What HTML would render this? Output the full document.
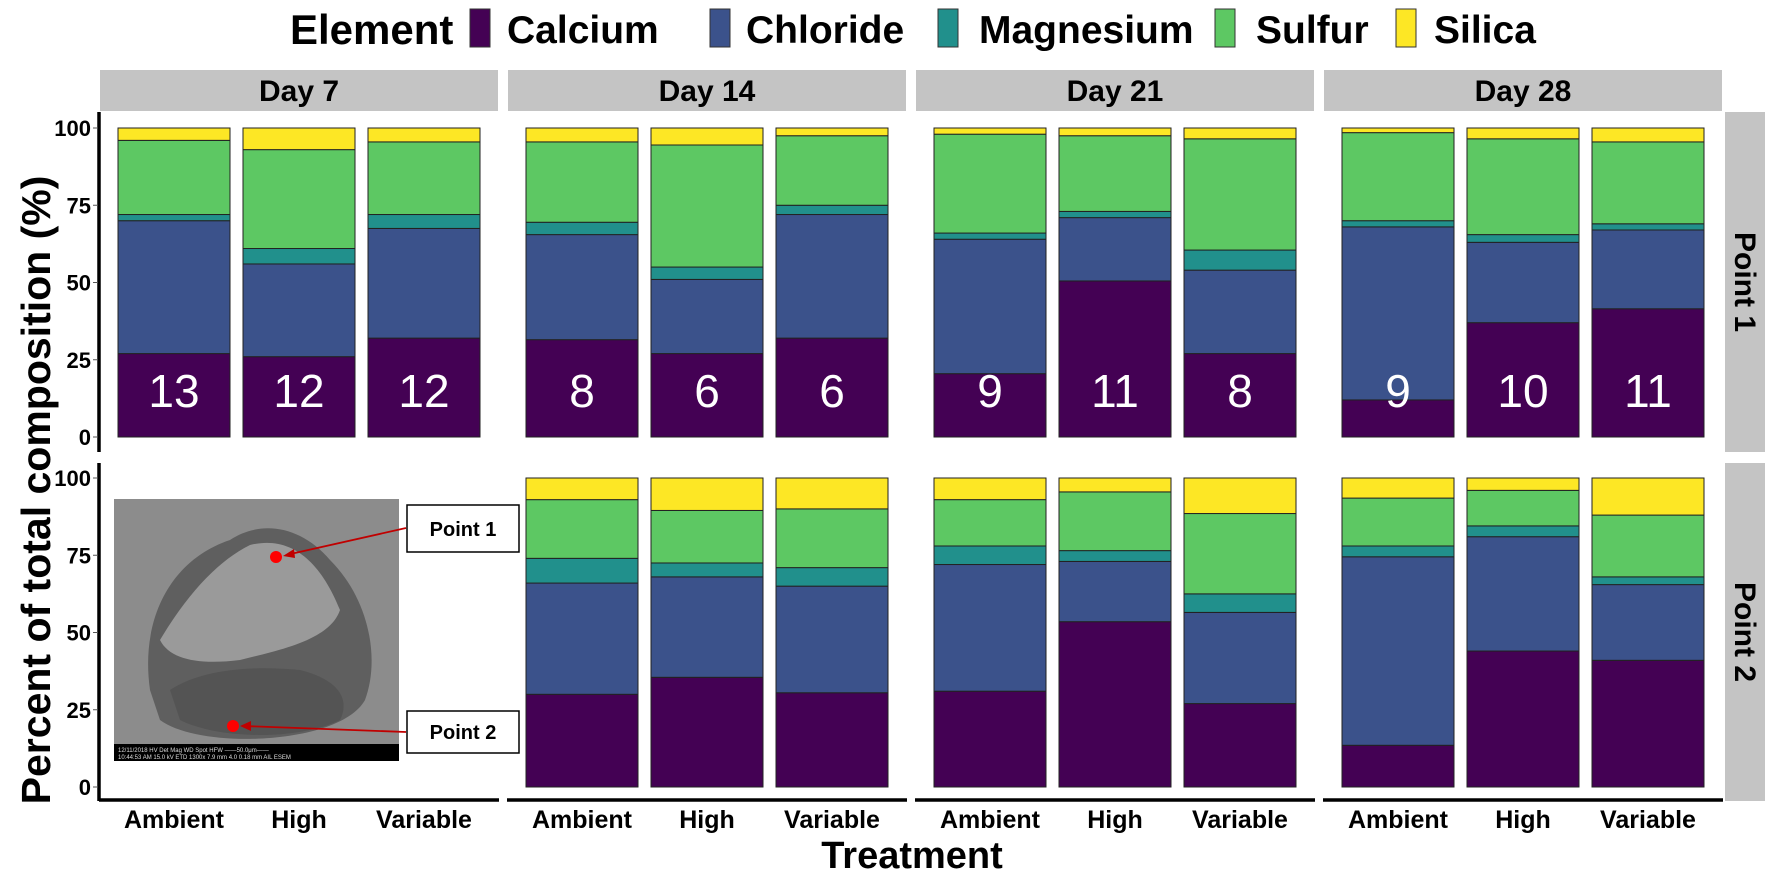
<!DOCTYPE html>
<html><head><meta charset="utf-8"><style>
body{margin:0;background:#fff;}
svg{display:block;font-family:"Liberation Sans",Arial,sans-serif;}
</style></head><body>
<svg id="chart" width="1772" height="876" viewBox="0 0 1772 876" xmlns="http://www.w3.org/2000/svg">
<g id="legend">
<text x="290" y="44" font-size="42" font-weight="bold">Element</text>
</g>
<g id="strips"></g>
<g id="bars"></g>
<g id="axes"></g>
<g id="sem">
<rect x="114" y="499" width="285" height="262" fill="#8c8c8c"/>
<path d="M150 690 C140 620 170 560 230 540 C260 520 300 525 330 560 C370 600 380 660 365 700 C340 745 200 750 160 720 Z" fill="#5f5f5f"/>
<path d="M160 640 C190 590 220 560 250 545 C290 535 320 560 340 610 C330 640 280 650 240 660 C200 665 170 660 160 640 Z" fill="#9a9a9a"/>
<path d="M170 690 C200 670 250 665 300 670 C340 680 350 700 340 720 C300 740 220 740 180 720 Z" fill="#545454"/>
<rect x="114" y="744" width="285" height="17" fill="#000"/>
<text x="118" y="752" font-size="6" fill="#ddd">12/11/2018  HV  Det  Mag  WD  Spot  HFW      ——50.0μm——</text>
<text x="118" y="759" font-size="6" fill="#ddd">10:44:53 AM 15.0 kV ETD 1300x 7.9 mm 4.0 0.18 mm    AIL ESEM</text>
<circle cx="276" cy="557" r="6" fill="#f00"/>
<circle cx="233" cy="726" r="6" fill="#f00"/>
<line x1="406" y1="528" x2="286" y2="555" stroke="#c00000" stroke-width="1.8"/>
<polygon points="283,556 294,549 295,558" fill="#c00000"/>
<line x1="406" y1="732" x2="243" y2="726" stroke="#c00000" stroke-width="1.8"/>
<polygon points="240,726 251,721 251,731" fill="#c00000"/>
<rect x="407" y="505" width="112" height="47" fill="#fff" stroke="#000" stroke-width="1.5"/>
<text x="463" y="536" font-size="20" font-weight="bold" text-anchor="middle">Point 1</text>
<rect x="407" y="711" width="112" height="42" fill="#fff" stroke="#000" stroke-width="1.5"/>
<text x="463" y="739" font-size="20" font-weight="bold" text-anchor="middle">Point 2</text>
</g>
<text transform="translate(50,490) rotate(-90)" text-anchor="middle" font-size="41" font-weight="bold">Percent of total composition (%)</text>
<text x="912" y="868" text-anchor="middle" font-size="38" font-weight="bold">Treatment</text>
</svg>
<script>
const elements = ["Calcium","Chloride","Magnesium","Sulfur","Silica"];
const colors = ["#440154","#3B528B","#21908C","#5DC863","#FDE725"];
const days = ["Day 7","Day 14","Day 21","Day 28"];
const points = ["Point 1","Point 2"];
const treatments = ["Ambient","High","Variable"];
const yTicks = [0,25,50,75,100];
// order: point1 (day7 A,H,V, day14 A,H,V, ...), then point2
const calcium   = [27,26,32, 31.5,27,32, 20.5,50.5,27, 12,37,41.5,  null,null,null, 30,35.5,30.5, 31,53.5,27, 13.5,44,41];
const chloride  = [43,30,35.5, 34,24,40, 43.5,20.5,27, 56,26,25.5,  null,null,null, 36,32.5,34.5, 41,19.5,29.5, 61,37,24.5];
const magnesium = [2,5,4.5, 4,4,3, 2,2,6.5, 2,2.5,2,  null,null,null, 8,4.5,6, 6,3.5,6, 3.5,3.5,2.5];
const sulfur    = [24,32,23.5, 26,39.5,22.5, 32,24.5,36, 28.5,31,26.5,  null,null,null, 19,17,19, 15,19,26, 15.5,11.5,20];
const silica    = [4,7,4.5, 4.5,5.5,2.5, 2,2.5,3.5, 1.5,3.5,4.5,  null,null,null, 7,10.5,10, 7,4.5,11.5, 6.5,4,12];
const counts    = [13,12,12, 8,6,6, 9,11,8, 9,10,11];

const NS="http://www.w3.org/2000/svg";
const series=[calcium,chloride,magnesium,sulfur,silica];
const panelLeft=[100,508,916,1324], panelW=398;
const rowZero=[437,787], pxPer=3.09;
const rowTop=[112,463], rowBot=[452,801];
function mk(t,a,p){const e=document.createElementNS(NS,t);for(const k in a)e.setAttribute(k,a[k]);(p||document.getElementById('chart')).appendChild(e);return e;}
function xCenter(d,i){return panelLeft[d]+74+i*125;}
function yPos(r,v){return rowZero[r]-v*pxPer;}

const leg=document.getElementById('legend');
const keyX=[470,710,938,1215,1396], txtX=[507,746,979,1256,1434];
elements.forEach((n,k)=>{
  const r=mk('rect',{x:keyX[k],y:9,width:20,height:38,fill:colors[k],stroke:'#333','stroke-width':1},leg);
  
  
  const t=mk('text',{x:txtX[k],y:43,'font-size':39,'font-weight':'bold'},leg);
  t.textContent=n;
  
  
});
const st=document.getElementById('strips');
days.forEach((d,i)=>{
  const r=mk('rect',{x:panelLeft[i],y:70,width:panelW,height:41,fill:'#c4c4c4'},st);
  
  
  const t=mk('text',{x:panelLeft[i]+panelW/2,y:101,'text-anchor':'middle','font-size':30,'font-weight':'bold'},st);
  t.textContent=d;
  
  
});
points.forEach((p,r)=>{
  const rr=mk('rect',{x:1725,y:rowTop[r],width:40,height:rowBot[r]-rowTop[r],fill:'#c4c4c4'},st);
  
  
  const cy=(rowTop[r]+rowBot[r])/2;
  const t=mk('text',{transform:`translate(1735,${cy}) rotate(90)`,'text-anchor':'middle','font-size':30,'font-weight':'bold'},st);
  t.textContent=p;
  
  
});
const bg=document.getElementById('bars');
for(let r=0;r<2;r++)for(let d=0;d<4;d++)for(let i=0;i<3;i++){
  const idx=r*12+d*3+i;
  if(calcium[idx]==null)continue;
  let cum=0;
  const cx=xCenter(d,i);
  series.forEach((s,k)=>{
    const v=s[idx];
    const y1=yPos(r,cum+v), y0=yPos(r,cum);
    const b=mk('rect',{x:cx-56,y:y1,width:112,height:y0-y1,fill:colors[k],stroke:'#222','stroke-width':1},bg);
    
    
    cum+=v;
  });
  if(r===0){
    const t=mk('text',{x:cx,y:yPos(0,0)-30,'text-anchor':'middle','font-size':46,fill:'#fff'},bg);
    t.textContent=counts[d*3+i];
    
    
  }
}
const ax=document.getElementById('axes');
for(let r=0;r<2;r++){
  const l=mk('line',{x1:99,x2:99,y1:rowTop[r],y2:rowBot[r],stroke:'#000','stroke-width':3.5},ax);
  
  
  yTicks.forEach(v=>{
    const y=yPos(r,v);
    mk('line',{x1:93,x2:98,y1:y,y2:y,stroke:'#555','stroke-width':1},ax);
    const t=mk('text',{x:91,y:y+8,'text-anchor':'end','font-size':22,'font-weight':'bold'},ax);
    t.textContent=v;
    
    
  });
}
for(let d=0;d<4;d++){
  const l=mk('line',{x1:panelLeft[d]-1,x2:panelLeft[d]+panelW+1,y1:800,y2:800,stroke:'#000','stroke-width':3.5},ax);
  
  
  treatments.forEach((tr,i)=>{
    const t=mk('text',{x:xCenter(d,i),y:828,'text-anchor':'middle','font-size':25,'font-weight':'bold'},ax);
    t.textContent=tr;
    
    
  });
}
</script>
</body></html>
